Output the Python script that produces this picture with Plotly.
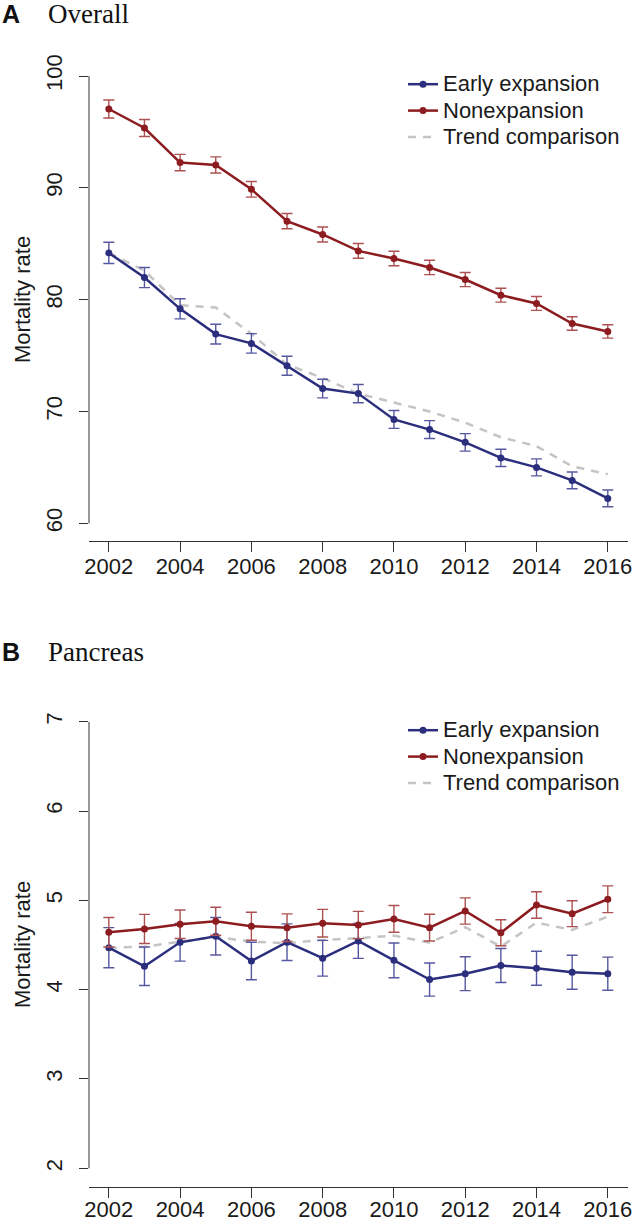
import plotly.graph_objects as go

W, H = 632, 1221

years = list(range(2002, 2017))
xtick_vals = list(range(2002, 2017, 2))

# Panel A: Overall
overall_early = [84.18, 81.98, 79.18, 76.92, 76.09, 74.09, 72.05, 71.6, 69.29, 68.38, 67.24, 65.85, 65.0, 63.84, 62.23]
overall_early_err = [0.95, 0.9, 0.9, 0.88, 0.87, 0.85, 0.83, 0.82, 0.8, 0.8, 0.78, 0.77, 0.76, 0.75, 0.75]
overall_non = [97.05, 95.35, 92.26, 92.05, 89.87, 87.02, 85.83, 84.36, 83.68, 82.88, 81.8, 80.4, 79.66, 77.87, 77.16]
overall_non_err = [0.8, 0.76, 0.73, 0.72, 0.7, 0.68, 0.67, 0.66, 0.65, 0.64, 0.63, 0.62, 0.62, 0.6, 0.6]
overall_trend = [84.18, 82.6, 79.5, 79.3, 76.95, 74.2, 73.0, 71.6, 70.8, 70.0, 69.0, 67.7, 66.9, 65.1, 64.4]
overall_yticks = [60, 70, 80, 90, 100]

# Panel B: Pancreas
panc_early = [4.47, 4.262, 4.53, 4.598, 4.321, 4.531, 4.352, 4.545, 4.328, 4.113, 4.179, 4.271, 4.24, 4.195, 4.179]
panc_early_err = [0.225, 0.215, 0.21, 0.21, 0.21, 0.205, 0.2, 0.195, 0.195, 0.185, 0.19, 0.19, 0.19, 0.19, 0.185]
panc_non = [4.643, 4.68, 4.732, 4.766, 4.71, 4.694, 4.744, 4.724, 4.792, 4.694, 4.881, 4.637, 4.948, 4.851, 5.012]
panc_non_err = [0.165, 0.163, 0.16, 0.157, 0.157, 0.155, 0.155, 0.153, 0.15, 0.15, 0.147, 0.145, 0.148, 0.145, 0.15]
panc_trend = [4.47, 4.48, 4.537, 4.59, 4.537, 4.52, 4.557, 4.576, 4.605, 4.527, 4.699, 4.482, 4.75, 4.669, 4.817]
panc_yticks = [2, 3, 4, 5, 6, 7]

series_names = ["Early expansion", "Nonexpansion", "Trend comparison"]

BLUE = "#2b2d7d"
BLUE_ERR = "#5558a0"
RED = "#8c1c1f"
RED_ERR = "#ad5152"
GREY = "#c4c4c4"
AXIS = "#333333"
TEXT = "#1a1a1a"
SANS = "Liberation Sans, Arial, sans-serif"
SERIF = "Liberation Serif, Times New Roman, serif"


def legend_label(s):
    return '<span style="font-size:22px">' + s + "</span>"


fig = go.Figure()


def add_panel(xref, yref, legend, early, early_err, non, non_err, trend):
    fig.add_trace(go.Scatter(
        x=years, y=trend, mode="lines", name=legend_label(series_names[2]),
        line=dict(color=GREY, width=2.5, dash="8px,7px"),
        xaxis=xref, yaxis=yref, legend=legend, legendrank=3))
    fig.add_trace(go.Scatter(
        x=years, y=early, mode="lines+markers", name=legend_label(series_names[0]),
        line=dict(color=BLUE, width=2.5), marker=dict(color=BLUE, size=7),
        error_y=dict(type="data", array=early_err, color=BLUE_ERR, thickness=1.4, width=5.5),
        xaxis=xref, yaxis=yref, legend=legend, legendrank=1))
    fig.add_trace(go.Scatter(
        x=years, y=non, mode="lines+markers", name=legend_label(series_names[1]),
        line=dict(color=RED, width=2.5), marker=dict(color=RED, size=7),
        error_y=dict(type="data", array=non_err, color=RED_ERR, thickness=1.4, width=5.5),
        xaxis=xref, yaxis=yref, legend=legend, legendrank=2))


add_panel("x", "y", "legend", overall_early, overall_early_err, overall_non, overall_non_err, overall_trend)
add_panel("x2", "y2", "legend2", panc_early, panc_early_err, panc_non, panc_non_err, panc_trend)

xdom = [89 / W, 628 / W]
xrange_ = [2001.444, 2016.567]

common_x = dict(
    domain=xdom, range=xrange_, tickmode="array", tickvals=xtick_vals,
    ticks="outside", ticklen=10, tickwidth=1, tickcolor=AXIS,
    showline=True, linecolor=AXIS, linewidth=1, showgrid=False, zeroline=False,
    tickfont=dict(family=SANS, size=22, color=TEXT), automargin=False,
    ticklabeloverflow="allow",
)
common_y = dict(
    tickmode="array", ticks="outside", ticklen=9, tickwidth=1, tickcolor=AXIS,
    showline=False, showgrid=False, zeroline=False, tickangle=-90,
    tickfont=dict(family=SANS, size=22, color=TEXT), automargin=False,
    ticklabelstandoff=8, ticklabeloverflow="allow",
)

legend_common = dict(
    font=dict(family=SANS, size=18, color=TEXT),
    bgcolor="rgba(0,0,0,0)", borderwidth=0, xanchor="left", yanchor="top",
    itemwidth=30, tracegroupgap=0, traceorder="normal",
)

fig.update_layout(
    width=W, height=H, autosize=False,
    margin=dict(l=0, r=0, t=0, b=0),
    paper_bgcolor="white", plot_bgcolor="white",
    showlegend=True,
    xaxis=dict(anchor="y", ticklabelstandoff=-4, **common_x),
    yaxis=dict(anchor="x", domain=[1 - 541 / H, 1 - 76 / H], range=[58.42, 100],
               tickvals=overall_yticks, **common_y),
    xaxis2=dict(anchor="y2", ticklabelstandoff=-7, **common_x),
    yaxis2=dict(anchor="x2", domain=[1 - 1186.7 / H, 1 - 721.7 / H], range=[1.794, 7],
                tickvals=panc_yticks, **common_y),
    legend=dict(x=403 / W, y=1 - 66 / H, **legend_common),
    legend2=dict(x=403 / W, y=1 - 712 / H, **legend_common),
)

# y-axis lines spanning only the tick range (R style)
for yref, ticks in (("y", overall_yticks), ("y2", panc_yticks)):
    fig.add_shape(type="line", xref=yref.replace("y", "x") + " domain", yref=yref,
                  x0=0, x1=0, y0=min(ticks), y1=max(ticks),
                  line=dict(color=AXIS, width=1))

# Panel titles and axis titles
for letter, name, ypix, axis_mid in (("A", "Overall", 14, 300), ("B", "Pancreas", 652, 945)):
    fig.add_annotation(text="<b>" + letter + "</b>", xref="paper", yref="paper",
                       x=0, y=1 - ypix / H, xanchor="left", yanchor="middle", showarrow=False,
                       font=dict(family=SANS, size=25, color="#111111"))
    fig.add_annotation(text=name, xref="paper", yref="paper",
                       x=46 / W, y=1 - ypix / H, xanchor="left", yanchor="middle", showarrow=False,
                       font=dict(family=SERIF, size=27, color="#111111"))
    fig.add_annotation(text="Mortality rate", xref="paper", yref="paper",
                       x=22 / W, y=1 - axis_mid / H, xanchor="center", yanchor="middle",
                       textangle=-90, showarrow=False,
                       font=dict(family=SANS, size=22, color=TEXT))

fig.write_html(
    "out.html",
    config={"displayModeBar": False},
    post_script="document.body.style.margin='0';document.documentElement.style.overflow='hidden';",
)
